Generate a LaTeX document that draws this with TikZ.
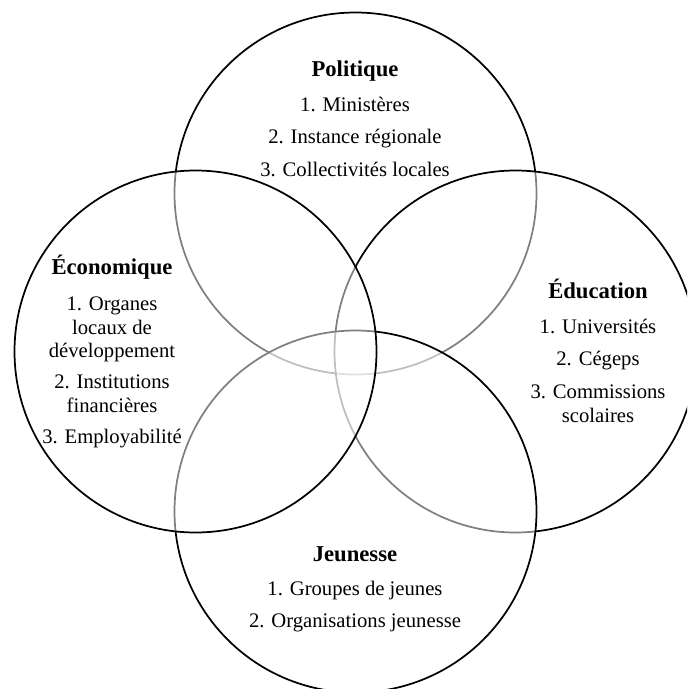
\documentclass[tikz,border=0pt]{standalone}
\usepackage{fontspec}
\setmainfont{Liberation Serif}

\tikzset{every picture/.style={line width=0.75pt}}
\tikzset{
  cercle/.style={draw=black, line width=1.3pt, fill=white, fill opacity=0.5},
  titre/.style={font=\fontsize{17}{19}\selectfont\bfseries, anchor=base, inner sep=0pt},
  ligne/.style={font=\fontsize{15.5}{18}\selectfont, anchor=base, inner sep=0pt}
}

\begin{document}
\begin{tikzpicture}[x=0.75pt,y=0.75pt,yscale=-1,xscale=1]
%picture frame 687 x 689
\clip (0,0) rectangle (687,689);

%Shape: Circle Politique
\draw [cercle] (355.5,193.5) circle (181);
%Shape: Circle Education
\draw [cercle] (515.5,351.5) circle (181);
%Shape: Circle Jeunesse
\draw [cercle] (355.5,511.5) circle (181);
%Shape: Circle Economique
\draw [cercle] (195.5,351.5) circle (181);

% Text Node
\draw (355,76) node [titre] (pol) {Politique};
% Text Node
\draw (355,111) node [ligne] (pol1) {1. Ministères};
% Text Node
\draw (355,143) node [ligne] (pol2) {2. Instance régionale};
% Text Node
\draw (355,176) node [ligne] (pol3) {3. Collectivités locales};

% Text Node
\draw (112,274) node [titre] (eco) {Économique};
% Text Node
\draw (112,310) node [ligne] (eco1a) {1. Organes};
% Text Node
\draw (112,334) node [ligne] (eco1b) {locaux de};
% Text Node
\draw (112,357) node [ligne] (eco1c) {développement};
% Text Node
\draw (112,388) node [ligne] (eco2a) {2. Institutions};
% Text Node
\draw (112,412) node [ligne] (eco2b) {financières};
% Text Node
\draw (112,443) node [ligne] (eco3) {3. Employabilité};

% Text Node
\draw (598,298) node [titre] (edu) {Éducation};
% Text Node
\draw (598,333) node [ligne] (edu1) {1. Universités};
% Text Node
\draw (598,365) node [ligne] (edu2) {2. Cégeps};
% Text Node
\draw (598,398) node [ligne] (edu3a) {3. Commissions};
% Text Node
\draw (598,422) node [ligne] (edu3b) {scolaires};

% Text Node
\draw (355,561) node [titre] (jeu) {Jeunesse};
% Text Node
\draw (355,595) node [ligne] (jeu1) {1. Groupes de jeunes};
% Text Node
\draw (355,627) node [ligne] (jeu2) {2. Organisations jeunesse};

\end{tikzpicture}
\end{document}
